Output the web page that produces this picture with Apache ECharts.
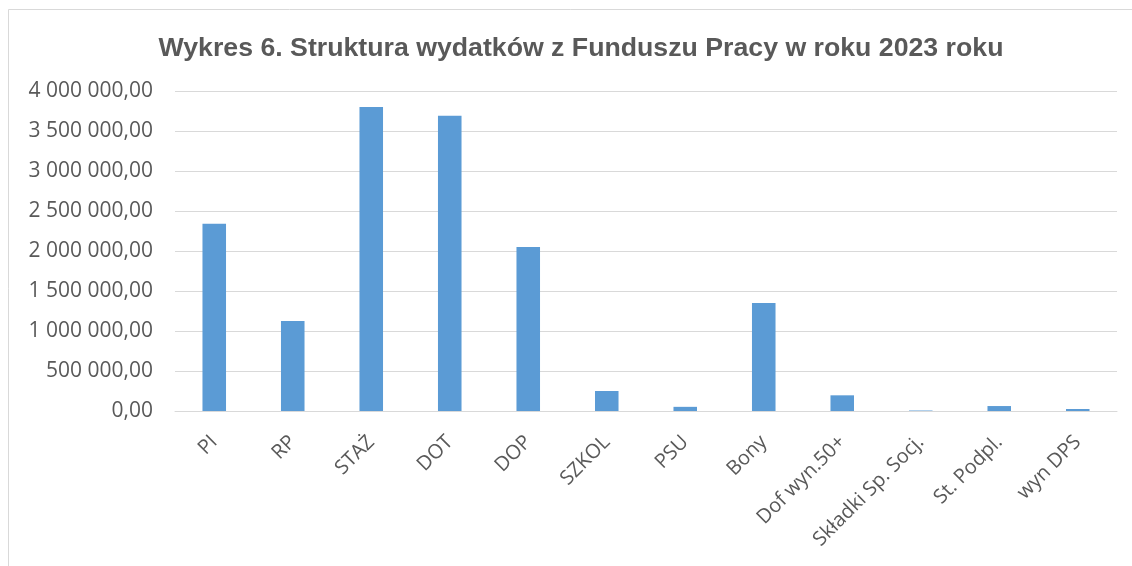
<!DOCTYPE html>
<html>
<head>
<meta charset="utf-8">
<script src="https://cdn.jsdelivr.net/npm/echarts@6/dist/echarts.min.js"></script>
<style>
  html, body { margin: 0; padding: 0; background: #fff; }
  #chart { width: 1132px; height: 566px; }
</style>
</head>
<body>
<div id="chart"></div>
<script>
const categories = ['PI', 'RP', 'STAŻ', 'DOT', 'DOP', 'SZKOL', 'PSU', 'Bony', 'Dof wyn.50+', 'Składki Sp. Socj.', 'St. Podpl.', 'wyn DPS'];
const values = [2340000, 1125000, 3800000, 3690000, 2050000, 250000, 52000, 1350000, 196000, 6000, 62000, 25000];
const yTicks = { min: 0, max: 4000000, interval: 500000 };

const fmt = (v) => {
  const s = Math.round(v).toString().replace(/\B(?=(\d{3})+(?!\d))/g, ' ');
  return s + ',00';
};

const chart = echarts.init(document.getElementById('chart'));

const option = {
  animation: false,
  backgroundColor: '#fff',
  title: {
    text: 'Wykres 6. Struktura wydatków z Funduszu Pracy w roku 2023 roku',
    left: 576,
    textAlign: 'center',
    top: 30,
    textStyle: {
      fontFamily: 'Liberation Sans',
      fontSize: 26.7,
      fontWeight: 'bold',
      color: '#595959'
    }
  },
  graphic: [{
    type: 'rect',
    shape: { x: 8.5, y: 9.5, width: 1140, height: 570 },
    style: { fill: 'none', stroke: '#d9d9d9', lineWidth: 1 },
    silent: true
  }],
  grid: {
    left: 175,
    right: 15,
    top: 91,
    bottom: 155
  },
  xAxis: {
    type: 'category',
    data: categories,
    axisLine: { lineStyle: { color: '#d9d9d9', width: 1 } },
    axisTick: { show: false },
    axisLabel: {
      rotate: 45,
      interval: 0,
      margin: 28,
      fontFamily: 'Open Sans',
      fontSize: 20,
      color: '#595959'
    }
  },
  yAxis: {
    type: 'value',
    min: yTicks.min,
    max: yTicks.max,
    interval: yTicks.interval,
    axisLine: { show: false },
    axisTick: { show: false },
    splitLine: { lineStyle: { color: '#d9d9d9', width: 1 } },
    axisLabel: {
      formatter: fmt,
      margin: 22,
      fontFamily: 'Open Sans',
      fontSize: 21,
      color: '#595959'
    }
  },
  series: [{
    type: 'bar',
    data: values,
    barWidth: '30%',
    itemStyle: { color: '#5b9bd5' }
  }]
};

chart.setOption(option);
</script>
</body>
</html>
